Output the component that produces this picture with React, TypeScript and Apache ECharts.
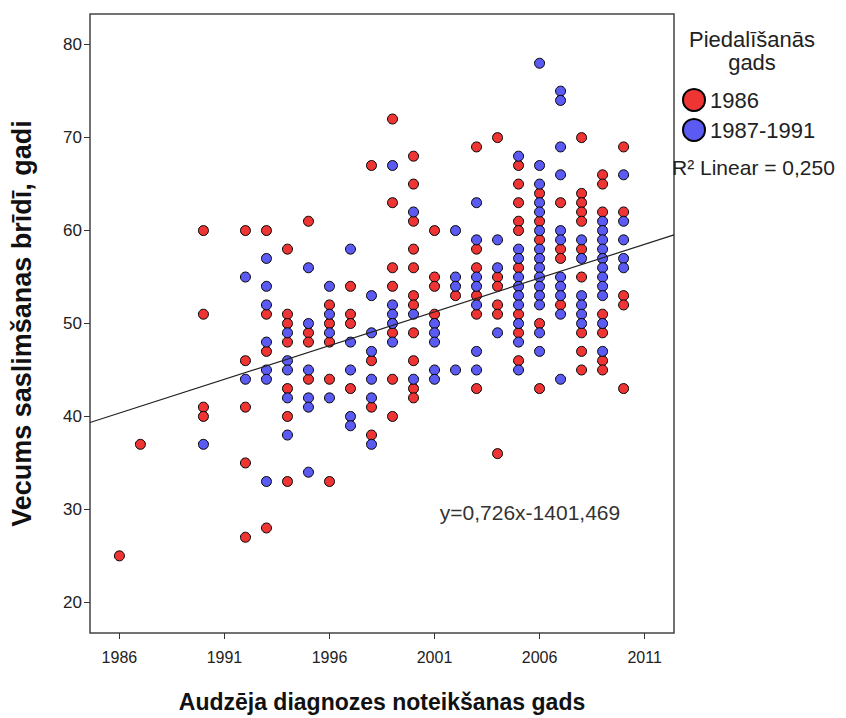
import { useEffect, useRef } from "react";
import * as echarts from "echarts";

// Diagnosis years that have at least one patient
const diagnosisYears = [
  1986, 1987, 1990, 1992, 1993, 1994, 1995, 1996, 1997, 1998, 1999,
  2000, 2001, 2002, 2003, 2004, 2005, 2006, 2007, 2008, 2009, 2010,
];

// Age at onset per diagnosis year, participation year 1986
const agesCohort1986 = [
  [25],
  [37],
  [60, 51, 41, 40],
  [60, 46, 41, 35, 27],
  [60, 51, 47, 28],
  [58, 51, 50, 48, 43, 40, 33],
  [61, 49, 48, 44],
  [52, 50, 48, 44, 33],
  [54, 51, 50, 43],
  [67, 46, 41, 38],
  [72, 63, 56, 54, 49, 44, 40],
  [68, 65, 61, 58, 56, 53, 52, 49, 46, 43, 42],
  [60, 55, 54, 51],
  [53],
  [69, 58, 56, 53, 51, 43],
  [70, 55, 54, 52, 51, 36],
  [67, 65, 63, 61, 60, 56, 51, 49, 46],
  [64, 61, 59, 50, 43],
  [63, 58, 57, 52],
  [70, 64, 63, 62, 61, 58, 55, 49, 47, 45],
  [66, 65, 62, 51, 49, 46, 45],
  [69, 62, 53, 52, 43],
];

// Age at onset per diagnosis year, participation years 1987-1991
const agesCohort1987to1991 = [
  [],
  [],
  [37],
  [55, 44],
  [57, 54, 52, 48, 45, 44, 33],
  [49, 46, 45, 42, 38],
  [56, 50, 45, 42, 41, 34],
  [54, 51, 49, 42],
  [58, 48, 45, 40, 39],
  [53, 49, 47, 44, 42, 37],
  [67, 52, 51, 50, 48],
  [62, 51, 44],
  [50, 49, 48, 45, 44],
  [60, 55, 54, 45],
  [63, 59, 55, 54, 52, 47, 45],
  [59, 56, 49],
  [68, 58, 57, 55, 54, 53, 52, 50, 48, 45],
  [78, 67, 65, 63, 62, 60, 58, 57, 56, 55, 54, 53, 52, 49, 47],
  [75, 74, 69, 66, 60, 59, 55, 54, 53, 51, 44],
  [59, 57, 53, 52, 51, 50],
  [61, 60, 59, 58, 57, 56, 55, 54, 53, 50, 47],
  [66, 61, 59, 57, 56],
];

const cohortNames = ["1986", "1987-1991"];
const xTicks = [1986, 1991, 1996, 2001, 2006, 2011];
const yTicks = [20, 30, 40, 50, 60, 70, 80];
const xRange = [1984.6, 2012.4];
const yRange = [16.7, 83.3];

// Linear fit of age on diagnosis year
const fitSlope = 0.726;
const fitIntercept = -1401.469;
const rSquared = 0.25;

const FONT = '"Liberation Sans", Arial, sans-serif';
const RED = "#EF3434";
const BLUE = "#5B5BF4";

const toPoints = (ages: number[][]) =>
  diagnosisYears.flatMap((yr, i) => ages[i].map((a) => [yr, a]));

const decimal = (v: number) => v.toFixed(3).replace(".", ",");

export default function App() {
  const ref = useRef<HTMLDivElement>(null);

  useEffect(() => {
    document.body.style.margin = "0";
    if (!ref.current) return;
    const chart = echarts.init(ref.current, undefined, { renderer: "svg" });

    const fitLine = xRange.map((x) => [x, fitSlope * x + fitIntercept]);
    const eqText = `y=${decimal(fitSlope)}x${decimal(fitIntercept)}`;

    chart.setOption({
      animation: false,
      backgroundColor: "#fff",
      textStyle: { fontFamily: FONT },
      grid: {
        left: 88,
        top: 14,
        width: 586,
        height: 624,
        show: true,
        borderColor: "#444",
        borderWidth: 1.5,
      },
      xAxis: {
        type: "value",
        min: xRange[0],
        max: xRange[1],
        splitLine: { show: false },
        axisLine: { show: false },
        axisTick: {
          show: true,
          customValues: xTicks,
          length: 6,
          lineStyle: { color: "#333" },
        },
        axisLabel: {
          customValues: xTicks,
          formatter: (v: number) => String(v),
          fontSize: 16,
          color: "#222",
          fontFamily: FONT,
          margin: 16,
        },
        name: "Audzēja diagnozes noteikšanas gads",
        nameLocation: "middle",
        nameGap: 57,
        nameTextStyle: {
          fontSize: 23,
          fontWeight: "bold",
          color: "#111",
          fontFamily: FONT,
        },
      },
      yAxis: {
        type: "value",
        min: yRange[0],
        max: yRange[1],
        splitLine: { show: false },
        axisLine: { show: false },
        axisTick: {
          show: true,
          customValues: yTicks,
          length: 6,
          lineStyle: { color: "#333" },
        },
        axisLabel: {
          customValues: yTicks,
          formatter: (v: number) => String(v),
          fontSize: 17,
          color: "#222",
          fontFamily: FONT,
          margin: 8,
        },
        name: "Vecums saslimšanas brīdī, gadi",
        nameLocation: "middle",
        nameRotate: 90,
        nameGap: 55,
        nameTextStyle: {
          fontSize: 27,
          fontWeight: "bold",
          color: "#111",
          fontFamily: FONT,
        },
      },
      legend: {
        data: cohortNames,
        orient: "vertical",
        left: 682,
        top: 88,
        padding: 0,
        itemWidth: 22,
        itemHeight: 22,
        itemGap: 6,
        icon: "circle",
        textStyle: { fontSize: 22, color: "#222", fontFamily: FONT },
      },
      series: [
        {
          name: cohortNames[0],
          type: "scatter",
          data: toPoints(agesCohort1986),
          symbolSize: 10,
          itemStyle: { color: RED, borderColor: "#000", borderWidth: 1, opacity: 1 },
        },
        {
          name: cohortNames[1],
          type: "scatter",
          data: toPoints(agesCohort1987to1991),
          symbolSize: 10,
          itemStyle: { color: BLUE, borderColor: "#000", borderWidth: 1, opacity: 1 },
        },
        {
          name: "fit",
          type: "line",
          data: fitLine,
          symbol: "none",
          silent: true,
          z: 5,
          lineStyle: { color: "#222", width: 1.2 },
        },
      ],
      graphic: [
        {
          type: "text",
          x: 752,
          y: 39,
          style: {
            text: "Piedalīšanās",
            fontSize: 22,
            fontFamily: FONT,
            fill: "#222",
            align: "center",
            verticalAlign: "middle",
          },
        },
        {
          type: "text",
          x: 752,
          y: 62,
          style: {
            text: "gads",
            fontSize: 22,
            fontFamily: FONT,
            fill: "#222",
            align: "center",
            verticalAlign: "middle",
          },
        },
        {
          type: "text",
          x: 672,
          y: 167,
          style: {
            text: `R² Linear = ${rSquared.toFixed(3).replace(".", ",")}`,
            fontSize: 21,
            fontFamily: FONT,
            fill: "#222",
            align: "left",
            verticalAlign: "middle",
          },
        },
        {
          type: "text",
          x: 530,
          y: 512,
          z: 10,
          style: {
            text: eqText,
            fontSize: 21,
            fontFamily: FONT,
            fill: "#333",
            align: "center",
            verticalAlign: "middle",
          },
        },
      ],
    });

    return () => chart.dispose();
  }, []);

  return <div ref={ref} style={{ width: 846, height: 718 }} />;
}
